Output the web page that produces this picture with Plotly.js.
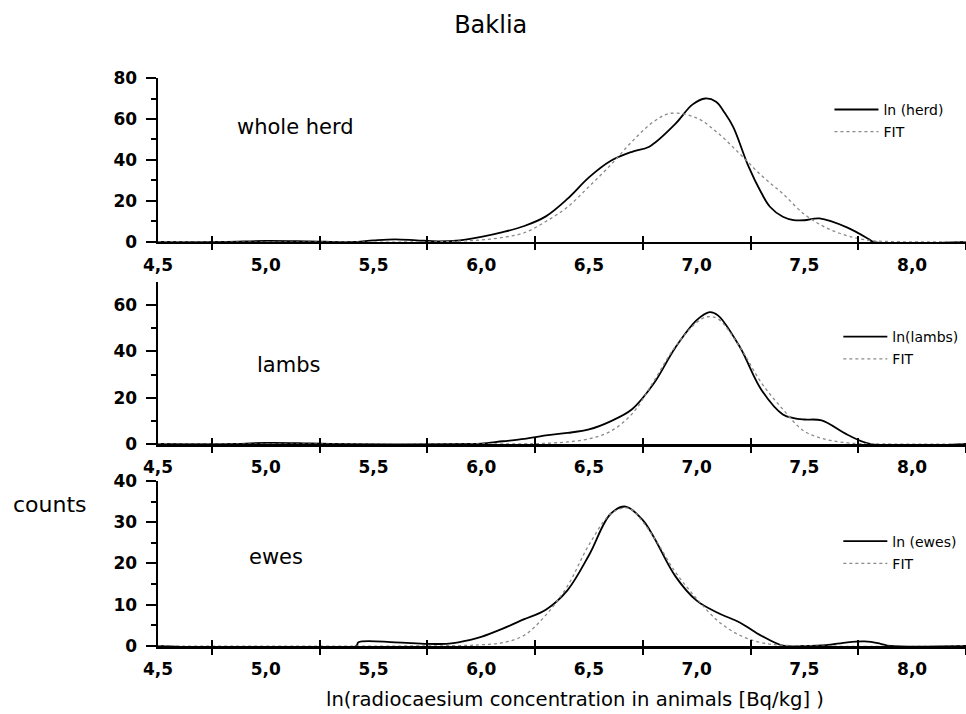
<!DOCTYPE html>
<html>
<head>
<meta charset="utf-8">
<script src="https://cdn.plot.ly/plotly-3.0.1.min.js"></script>
<style>html,body{margin:0;padding:0;background:#fff;}#chart{width:966px;height:714px;}</style>
</head>
<body>
<div id="chart"></div>
<script>
// ---- data ----
const herdX = [4.5, 4.8, 5.0, 5.2, 5.4, 5.5, 5.6, 5.7, 5.8, 5.9, 6.0, 6.1, 6.2, 6.3, 6.4, 6.5, 6.6, 6.7, 6.78, 6.9, 6.98, 7.04, 7.09, 7.13, 7.17, 7.24, 7.3, 7.34, 7.4, 7.45, 7.5, 7.57, 7.7, 7.8, 7.82, 8.25];
const herdY = [0, 0, 0.5, 0.3, 0, 0.8, 1.3, 0.8, 0.3, 0.8, 2.5, 4.8, 7.8, 12.5, 21, 31.5, 39.5, 44, 46.5, 57.5, 67, 70, 68.4, 63, 56, 37, 24, 17.2, 12.3, 10.7, 10.6, 11.5, 7, 1.3, 0, 0];
const herdFitX = [4.5, 5.8, 5.9, 6.0, 6.1, 6.2, 6.3, 6.4, 6.5, 6.6, 6.7, 6.8, 6.88, 7.0, 7.1, 7.2, 7.3, 7.4, 7.5, 7.6, 7.7, 7.8, 7.9, 8.25];
const herdFitY = [0, 0.1, 0.4, 1, 2.2, 4.5, 10, 17, 27, 37.5, 49, 58.7, 62.8, 60.5, 53, 43, 32.5, 23.5, 13.5, 7, 3, 0.8, 0.2, 0];

const lambX = [4.5, 4.85, 5.0, 5.15, 5.3, 5.95, 6.0, 6.1, 6.2, 6.3, 6.4, 6.5, 6.6, 6.7, 6.8, 6.9, 7.0, 7.06, 7.1, 7.2, 7.3, 7.4, 7.45, 7.5, 7.58, 7.7, 7.81, 8.25];
const lambY = [0, 0, 0.5, 0.4, 0, 0, 0.2, 1.2, 2.2, 3.7, 4.8, 6.3, 9.8, 15, 26, 41.5, 53.5, 57, 55.5, 42, 23.5, 12.8, 11.2, 10.6, 10.2, 4, 0, 0];
const lambFitX = [4.5, 6.2, 6.3, 6.4, 6.5, 6.6, 6.7, 6.8, 6.9, 7.0, 7.05, 7.1, 7.2, 7.3, 7.4, 7.5, 7.6, 7.7, 7.8, 8.25];
const lambFitY = [0, 0.1, 0.3, 0.9, 2.2, 5.5, 13, 27, 42, 52.5, 55, 54, 42, 26.5, 15, 5.5, 2, 0.5, 0.1, 0];

const eweX = [4.5, 5.42, 5.43, 5.6, 5.75, 5.85, 5.95, 6.0, 6.1, 6.2, 6.3, 6.4, 6.5, 6.6, 6.67, 6.75, 6.8, 6.9, 7.0, 7.1, 7.2, 7.3, 7.4, 7.5, 7.6, 7.7, 7.78, 7.85, 7.9, 8.25];
const eweY = [0, 0, 0.9, 0.9, 0.5, 0.6, 1.5, 2.2, 4.2, 6.5, 8.8, 13.5, 22, 32, 33.8, 30.5, 26.5, 17, 11, 8, 5.7, 2.5, 0.1, 0, 0.2, 0.9, 1.1, 0.6, 0, 0];
const eweFitX = [4.5, 5.9, 6.0, 6.1, 6.2, 6.3, 6.4, 6.5, 6.6, 6.67, 6.7, 6.8, 6.9, 7.0, 7.1, 7.2, 7.3, 7.4, 8.25];
const eweFitY = [0, 0.1, 0.3, 0.8, 2.6, 7.5, 14.5, 24.5, 32, 33.5, 33, 26.5, 18, 11.5, 6, 2.6, 0.8, 0.2, 0];

const xTickVals = [4.5, 5.0, 5.5, 6.0, 6.5, 7.0, 7.5, 8.0];
const xTickText = ['4,5', '5,0', '5,5', '6,0', '6,5', '7,0', '7,5', '8,0'];
const panelNames = ['whole herd', 'lambs', 'ewes'];
const seriesNames = ['ln (herd)', 'ln(lambs)', 'ln (ewes)'];

// ---- styling ----
const FONT = 'DejaVu Sans, Verdana, sans-serif';
const solid = {color: '#000', width: 1.8, shape: 'spline', smoothing: 1};
const dotted = {color: '#8a8a8a', width: 1.3, dash: 'dot', shape: 'spline', smoothing: 1};

const sets = [
  [herdX, herdY, herdFitX, herdFitY],
  [lambX, lambY, lambFitX, lambFitY],
  [eweX, eweY, eweFitX, eweFitY]
];
const legendIds = ['legend', 'legend2', 'legend3'];
const traces = [];
sets.forEach((s, i) => {
  const xa = i === 0 ? 'x' : 'x' + (i + 1);
  const ya = i === 0 ? 'y' : 'y' + (i + 1);
  traces.push({x: s[0], y: s[1], xaxis: xa, yaxis: ya, type: 'scatter', mode: 'lines',
    name: seriesNames[i], line: solid, legend: legendIds[i], legendgroup: 'a' + i, hoverinfo: 'skip'});
  traces.push({x: s[2], y: s[3], xaxis: xa, yaxis: ya, type: 'scatter', mode: 'lines',
    name: 'FIT', line: dotted, legend: legendIds[i], legendgroup: 'b' + i, hoverinfo: 'skip'});
});

const tickFont = {family: FONT, size: 17, color: '#000', weight: 'bold'};
function xAxis(anchor) {
  return {
    anchor: anchor, range: [4.5, 8.25], domain: [0, 1],
    showline: true, linecolor: '#000', linewidth: 2.5,
    showgrid: false, zeroline: false,
    tickmode: 'array', tickvals: xTickVals, ticktext: xTickText,
    ticks: '', tickfont: tickFont, ticklabelstandoff: 6,
    minor: {tick0: 4.75, dtick: 0.5, ticks: 'outside', ticklen: 6, tickwidth: 2, tickcolor: '#000', showgrid: false}
  };
}
function xOverlay(over, anchor) {
  return {
    overlaying: over, anchor: anchor, range: [4.5, 8.25], side: 'bottom',
    showline: false, showgrid: false, zeroline: false, showticklabels: false,
    tickmode: 'linear', tick0: 4.75, dtick: 0.5, ticks: 'inside', ticklen: 6, tickwidth: 2, tickcolor: '#000'
  };
}
function yAxis(anchor, dom, rng, tv, minorVals) {
  return {
    anchor: anchor, domain: dom, range: rng,
    showline: true, linecolor: '#000', linewidth: 2.5,
    showgrid: false, zeroline: false,
    tickmode: 'array', tickvals: tv, ticks: 'outside', ticklen: 10, tickwidth: 2, tickcolor: '#000',
    tickfont: tickFont, ticklabelstandoff: 5,
    minor: {tickmode: 'array', tickvals: minorVals, ticks: 'outside', ticklen: 5, tickwidth: 2, tickcolor: '#000', showgrid: false}
  };
}

const legendBase = {font: {family: FONT, size: 14, color: '#000'}, bgcolor: 'rgba(0,0,0,0)',
  itemwidth: 44, tracegroupgap: 1, traceorder: 'grouped', xanchor: 'left', yanchor: 'top'};

const layout = {
  width: 966, height: 714,
  margin: {l: 158, r: 0, t: 78, b: 68},
  paper_bgcolor: '#fff', plot_bgcolor: '#fff',
  font: {family: FONT, color: '#000'},
  title: {text: 'Baklia', font: {family: FONT, size: 24, color: '#000'}, x: 0.508, xanchor: 'center', y: 0.965, yanchor: 'middle'},
  showlegend: true,
  xaxis: xAxis('y'),
  xaxis2: xAxis('y2'),
  xaxis3: xAxis('y3'),
  xaxis4: xOverlay('x', 'y'),
  xaxis5: xOverlay('x2', 'y2'),
  xaxis6: xOverlay('x3', 'y3'),
  yaxis: yAxis('x', [0.7113, 1], [0, 80], [0, 20, 40, 60, 80], [10, 30, 50, 70]),
  yaxis2: yAxis('x2', [0.3556, 0.6408], [0, 70], [0, 20, 40, 60], [10, 30, 50]),
  yaxis3: yAxis('x3', [0, 0.2905], [0, 40], [0, 10, 20, 30, 40], [5, 15, 25, 35]),
  legend: Object.assign({}, legendBase, {x: 0.831, y: 0.972}),
  legend2: Object.assign({}, legendBase, {x: 0.842, y: 0.572}),
  legend3: Object.assign({}, legendBase, {x: 0.842, y: 0.212}),
  annotations: [
    {text: panelNames[0], xref: 'x', yref: 'y', x: 5.137, y: 56, showarrow: false, yanchor: 'middle', font: {family: FONT, size: 21, color: '#000'}},
    {text: panelNames[1], xref: 'x2', yref: 'y2', x: 5.104, y: 34, showarrow: false, yanchor: 'middle', font: {family: FONT, size: 21, color: '#000'}},
    {text: panelNames[2], xref: 'x3', yref: 'y3', x: 5.049, y: 21.6, showarrow: false, yanchor: 'middle', font: {family: FONT, size: 21, color: '#000'}},
    {text: 'counts', xref: 'paper', yref: 'paper', x: -0.1337, y: 0.25, showarrow: false, xanchor: 'center', yanchor: 'middle', font: {family: FONT, size: 22, color: '#000'}},
    {text: 'ln(radiocaesium concentration in animals [Bq/kg] )', xref: 'paper', yref: 'paper', x: 0.516, y: -0.095, showarrow: false, xanchor: 'center', yanchor: 'middle', font: {family: FONT, size: 19.6, color: '#000'}}
  ]
};

// empty traces to register the overlay tick axes
['x4', 'x5', 'x6'].forEach((xa, i) => {
  traces.push({x: [], y: [], xaxis: xa, yaxis: i === 0 ? 'y' : 'y' + (i + 1), type: 'scatter', mode: 'lines', showlegend: false, hoverinfo: 'skip'});
});

Plotly.newPlot('chart', traces, layout, {displayModeBar: false, staticPlot: true});
</script>
</body>
</html>
